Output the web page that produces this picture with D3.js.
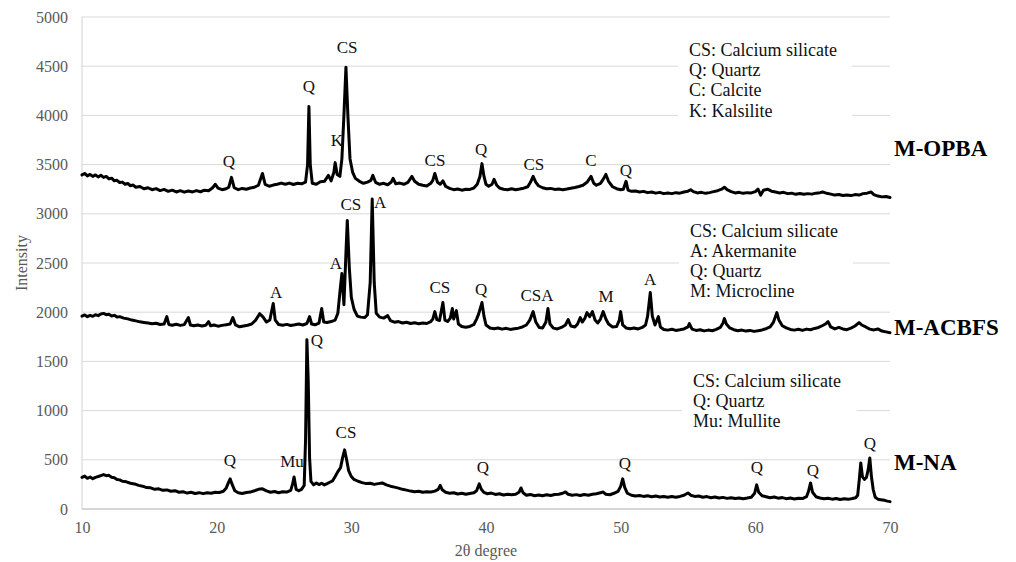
<!DOCTYPE html>
<html>
<head>
<meta charset="utf-8">
<script src="https://cdn.jsdelivr.net/npm/d3@7"></script>
<style>
  body { margin: 0; background: #fff; }
  svg { display: block; }
</style>
</head>
<body>
<svg id="chart" width="1016" height="562"></svg>
<script>
// Axis ticks
const xTicks = [10, 20, 30, 40, 50, 60, 70];
const yTicks = [0, 500, 1000, 1500, 2000, 2500, 3000, 3500, 4000, 4500, 5000];

// XRD patterns: [2θ, intensity]
const opba = [
  [10.0,3395],[10.2,3410],[10.4,3385],[10.6,3400],[10.8,3380],[11.0,3395],[11.2,3375],[11.4,3392],[11.6,3370],[11.8,3380],
  [12.0,3355],[12.2,3362],[12.4,3335],[12.6,3340],[12.8,3318],[13.0,3322],[13.2,3300],[13.4,3308],[13.6,3285],[13.8,3292],
  [14.0,3270],[14.3,3278],[14.6,3255],[14.9,3265],[15.2,3245],[15.5,3256],[15.8,3236],[16.1,3248],[16.4,3228],[16.7,3240],
  [17.0,3222],[17.3,3235],[17.6,3220],[17.9,3232],[18.2,3222],[18.5,3236],[18.8,3224],[19.1,3240],[19.4,3235],[19.7,3265],
  [19.9,3300],[20.1,3262],[20.4,3245],[20.7,3255],[20.9,3270],[21.1,3370],[21.3,3265],[21.6,3245],[21.9,3258],[22.2,3250],
  [22.5,3262],[22.8,3270],[23.1,3290],[23.4,3410],[23.6,3300],[23.9,3280],[24.2,3292],[24.5,3300],[24.8,3312],[25.1,3300],
  [25.4,3312],[25.7,3298],[26.0,3310],[26.3,3305],[26.6,3322],[26.75,3500],[26.85,4090],[26.95,3500],[27.1,3310],[27.4,3300],
  [27.7,3325],[28.0,3330],[28.3,3390],[28.5,3335],[28.7,3420],[28.8,3520],[28.95,3400],[29.15,3380],[29.3,3560],[29.45,4000],
  [29.6,4490],[29.75,3980],[29.9,3560],[30.1,3420],[30.3,3360],[30.6,3330],[30.9,3310],[31.2,3322],[31.45,3340],[31.6,3390],
  [31.8,3320],[32.1,3300],[32.4,3310],[32.7,3295],[32.95,3320],[33.1,3360],[33.3,3305],[33.6,3312],[33.9,3300],[34.2,3320],
  [34.5,3380],[34.7,3330],[35.0,3300],[35.3,3290],[35.6,3282],[35.9,3310],[36.05,3340],[36.2,3410],[36.4,3320],[36.6,3300],
  [36.8,3335],[37.0,3280],[37.3,3258],[37.6,3245],[37.9,3252],[38.2,3240],[38.5,3250],[38.8,3248],[39.1,3262],[39.35,3300],
  [39.55,3380],[39.7,3510],[39.85,3380],[40.0,3300],[40.2,3280],[40.45,3300],[40.6,3350],[40.8,3290],[41.0,3262],[41.3,3250],
  [41.6,3245],[41.9,3255],[42.2,3245],[42.5,3252],[42.8,3260],[43.1,3275],[43.3,3320],[43.5,3380],[43.7,3320],[43.9,3285],
  [44.2,3265],[44.5,3255],[44.8,3258],[45.1,3248],[45.4,3252],[45.7,3245],[46.0,3252],[46.3,3260],[46.6,3268],[46.9,3278],
  [47.2,3290],[47.5,3320],[47.8,3380],[48.0,3310],[48.2,3290],[48.5,3310],[48.7,3350],[48.9,3400],[49.1,3330],[49.4,3275],
  [49.7,3255],[50.0,3245],[50.2,3250],[50.4,3330],[50.55,3240],[50.8,3228],[51.1,3232],[51.4,3222],[51.7,3228],[52.0,3215],
  [52.3,3222],[52.6,3210],[52.9,3218],[53.2,3205],[53.5,3212],[53.8,3205],[54.1,3215],[54.4,3210],[54.7,3222],[55.0,3230],
  [55.2,3245],[55.4,3225],[55.7,3212],[56.0,3218],[56.3,3208],[56.6,3215],[56.9,3225],[57.2,3235],[57.5,3250],[57.7,3270],
  [57.9,3245],[58.2,3225],[58.5,3212],[58.8,3218],[59.1,3208],[59.4,3215],[59.7,3212],[60.0,3225],[60.2,3250],[60.4,3190],
  [60.6,3240],[60.9,3250],[61.2,3230],[61.5,3222],[61.8,3212],[62.1,3218],[62.4,3205],[62.7,3210],[63.0,3198],[63.3,3206],
  [63.6,3198],[63.9,3205],[64.2,3200],[64.5,3210],[64.8,3215],[65.0,3222],[65.3,3208],[65.6,3200],[65.9,3190],[66.2,3196],
  [66.5,3186],[66.8,3192],[67.1,3185],[67.4,3195],[67.7,3190],[68.0,3205],[68.3,3210],[68.6,3222],[68.8,3195],[69.1,3180],
  [69.4,3172],[69.7,3176],[70.0,3165]
];

const acbfs = [
  [10.0,1960],[10.2,1972],[10.4,1955],[10.6,1968],[10.8,1958],[11.0,1975],[11.2,1965],[11.4,1982],[11.6,1988],[11.8,1975],
  [12.0,1980],[12.2,1962],[12.4,1968],[12.6,1950],[12.8,1955],[13.1,1940],[13.4,1932],[13.7,1920],[14.0,1912],[14.3,1902],
  [14.6,1896],[14.9,1890],[15.2,1882],[15.5,1888],[15.8,1875],[16.1,1880],[16.3,1955],[16.45,1875],[16.7,1868],[17.0,1878],
  [17.3,1866],[17.6,1874],[17.9,1945],[18.05,1870],[18.3,1862],[18.6,1870],[18.9,1860],[19.2,1868],[19.4,1904],[19.55,1862],
  [19.8,1870],[20.1,1858],[20.4,1866],[20.7,1872],[21.0,1880],[21.2,1945],[21.4,1870],[21.7,1852],[22.0,1860],[22.3,1868],
  [22.6,1880],[22.9,1920],[23.2,1985],[23.45,1950],[23.7,1900],[23.95,1920],[24.2,2088],[24.35,1920],[24.6,1875],[24.9,1868],
  [25.2,1876],[25.5,1865],[25.8,1872],[26.1,1880],[26.4,1870],[26.7,1885],[26.9,1955],[27.05,1880],[27.3,1872],[27.6,1890],
  [27.8,2037],[27.95,1900],[28.2,1895],[28.5,1905],[28.8,1920],[29.0,1990],[29.15,2200],[29.3,2393],[29.45,2077],[29.6,2600],
  [29.7,2933],[29.85,2450],[30.0,2150],[30.2,2030],[30.45,1960],[30.7,1950],[31.0,1945],[31.2,1975],[31.4,2300],[31.55,3150],
  [31.7,2300],[31.85,1990],[32.1,1950],[32.4,1940],[32.7,1965],[32.9,1915],[33.2,1898],[33.5,1905],[33.8,1890],[34.1,1898],
  [34.4,1885],[34.7,1892],[35.0,1882],[35.3,1890],[35.6,1885],[35.9,1905],[36.05,1930],[36.2,2006],[36.35,1925],[36.55,1915],
  [36.8,2098],[36.95,1920],[37.15,1905],[37.35,1940],[37.5,2037],[37.6,1930],[37.8,2016],[37.95,1880],[38.2,1855],[38.5,1848],
  [38.8,1855],[39.1,1875],[39.3,1930],[39.45,1980],[39.7,2098],[39.85,1960],[40.0,1870],[40.3,1840],[40.6,1832],[40.9,1840],
  [41.2,1828],[41.5,1836],[41.8,1825],[42.1,1832],[42.4,1838],[42.7,1850],[43.0,1870],[43.25,1920],[43.5,2006],[43.7,1900],
  [43.95,1845],[44.2,1840],[44.45,1900],[44.6,2037],[44.75,1880],[45.0,1838],[45.3,1830],[45.6,1845],[45.9,1870],[46.1,1925],
  [46.3,1860],[46.6,1850],[46.8,1880],[47.0,1945],[47.15,1900],[47.35,1940],[47.5,1996],[47.7,1955],[47.9,2006],[48.1,1920],
  [48.3,1890],[48.5,1930],[48.7,2006],[48.9,1930],[49.1,1880],[49.4,1850],[49.7,1855],[49.9,1920],[50.0,2006],[50.15,1870],
  [50.4,1840],[50.7,1832],[51.0,1840],[51.3,1830],[51.6,1845],[51.85,1870],[52.0,1960],[52.2,2200],[52.35,1960],[52.55,1870],
  [52.8,1955],[52.95,1850],[53.2,1825],[53.5,1818],[53.8,1826],[54.1,1815],[54.4,1822],[54.7,1830],[55.0,1850],[55.1,1884],
  [55.3,1828],[55.6,1815],[55.9,1822],[56.2,1810],[56.5,1818],[56.8,1812],[57.1,1825],[57.4,1845],[57.6,1890],[57.7,1935],
  [57.85,1880],[58.1,1840],[58.4,1822],[58.7,1812],[59.0,1818],[59.3,1808],[59.6,1815],[59.9,1805],[60.2,1812],[60.5,1820],
  [60.8,1832],[61.1,1850],[61.35,1900],[61.6,1996],[61.75,1920],[62.0,1862],[62.3,1840],[62.6,1825],[62.9,1818],[63.2,1826],
  [63.5,1815],[63.8,1828],[64.1,1822],[64.4,1835],[64.7,1845],[65.0,1865],[65.2,1880],[65.4,1904],[65.6,1850],[65.9,1830],
  [66.2,1845],[66.5,1830],[66.8,1822],[67.1,1838],[67.4,1860],[67.7,1894],[67.9,1870],[68.2,1850],[68.5,1828],[68.8,1820],
  [69.1,1830],[69.4,1808],[69.7,1800],[70.0,1792]
];

const na = [
  [10.0,322],[10.2,335],[10.4,312],[10.6,325],[10.8,308],[11.0,322],[11.2,330],[11.4,340],[11.6,350],[11.8,338],
  [12.0,342],[12.2,322],[12.4,318],[12.6,300],[12.8,296],[13.0,282],[13.3,276],[13.6,262],[13.9,255],[14.2,240],
  [14.5,232],[14.8,218],[15.1,215],[15.4,200],[15.7,205],[16.0,190],[16.3,194],[16.6,180],[16.9,186],[17.2,170],
  [17.5,176],[17.8,162],[18.1,170],[18.4,158],[18.7,166],[19.0,156],[19.3,165],[19.6,160],[19.9,170],[20.2,168],
  [20.5,180],[20.7,210],[20.85,260],[21.0,306],[21.15,250],[21.35,185],[21.6,165],[21.9,158],[22.2,168],[22.5,172],
  [22.8,185],[23.1,200],[23.4,205],[23.7,185],[24.0,170],[24.3,178],[24.6,165],[24.9,175],[25.2,172],[25.5,190],
  [25.65,260],[25.75,326],[25.9,200],[26.1,185],[26.3,200],[26.5,240],[26.6,700],[26.7,1721],[26.8,1300],[26.9,520],
  [27.0,280],[27.2,245],[27.4,265],[27.6,248],[27.8,262],[28.0,245],[28.2,258],[28.4,272],[28.6,285],[28.8,330],
  [29.0,380],[29.2,420],[29.35,520],[29.5,601],[29.65,500],[29.8,390],[30.0,330],[30.2,300],[30.5,282],[30.8,268],
  [31.1,258],[31.4,262],[31.7,250],[32.0,258],[32.3,265],[32.6,245],[32.9,232],[33.2,222],[33.5,212],[33.8,200],
  [34.1,192],[34.4,182],[34.7,175],[35.0,180],[35.3,170],[35.6,176],[35.9,172],[36.2,182],[36.45,200],[36.6,240],
  [36.75,195],[37.0,170],[37.3,160],[37.6,165],[37.9,152],[38.2,160],[38.5,150],[38.8,158],[39.1,165],[39.3,185],
  [39.5,255],[39.65,200],[39.85,168],[40.1,155],[40.4,162],[40.7,148],[41.0,155],[41.3,142],[41.6,150],[41.9,145],
  [42.2,150],[42.45,170],[42.6,214],[42.75,165],[43.0,140],[43.3,148],[43.6,135],[43.9,142],[44.2,135],[44.5,145],
  [44.8,138],[45.1,148],[45.4,150],[45.7,160],[45.9,173],[46.1,150],[46.4,140],[46.7,146],[47.0,138],[47.3,148],
  [47.6,140],[47.9,150],[48.2,155],[48.5,165],[48.7,172],[48.9,150],[49.2,145],[49.5,160],[49.8,178],[50.0,230],
  [50.15,306],[50.3,220],[50.5,160],[50.8,140],[51.1,132],[51.4,138],[51.7,128],[52.0,135],[52.3,125],[52.6,132],
  [52.9,122],[53.2,128],[53.5,120],[53.8,126],[54.1,120],[54.4,128],[54.7,140],[55.0,163],[55.2,140],[55.5,128],
  [55.8,132],[56.1,120],[56.4,126],[56.7,115],[57.0,122],[57.3,112],[57.6,118],[57.9,108],[58.2,115],[58.5,106],
  [58.8,112],[59.1,105],[59.4,112],[59.7,120],[59.95,160],[60.1,245],[60.25,170],[60.5,135],[60.8,125],[61.1,115],
  [61.4,122],[61.7,110],[62.0,116],[62.3,105],[62.6,112],[62.9,102],[63.2,110],[63.5,106],[63.8,125],[63.95,180],
  [64.1,265],[64.25,170],[64.5,125],[64.8,112],[65.1,105],[65.4,110],[65.7,100],[66.0,106],[66.3,96],[66.6,104],
  [66.9,98],[67.2,106],[67.45,115],[67.6,140],[67.72,300],[67.83,468],[67.95,330],[68.1,300],[68.25,320],[68.38,400],
  [68.5,519],[68.62,330],[68.75,200],[68.9,120],[69.1,100],[69.3,95],[69.6,88],[69.8,80],[70.0,75]
];

const series = [
  { name: "M-OPBA", values: opba },
  { name: "M-ACBFS", values: acbfs },
  { name: "M-NA", values: na }
];

// Sample names beside the right end of each pattern: [name, intensity]
const sampleNames = [["M-OPBA", 3587], ["M-ACBFS", 1768], ["M-NA", 396]];

// Phase marks above the peaks: [text, 2θ, intensity]
const opbaMarks = [["Q",20.91,3476],["Q",26.85,4238],["K",28.93,3689],["CS",29.68,4634],["CS",36.21,3486],
                   ["Q",39.63,3598],["CS",43.56,3445],["C",47.80,3486],["Q",50.39,3384]];
const acbfsMarks = [["A",24.41,2144],["A",28.86,2439],["CS",29.97,3039],["A",32.13,3059],["CS",36.58,2195],
                    ["Q",39.63,2175],["CSA",43.79,2114],["M",48.91,2104],["A",52.18,2276]];
const naMarks = [["Q",20.99,437],["Mu",25.59,427],["Q",27.45,1657],["CS",29.60,722],["Q",39.77,366],
                 ["Q",50.31,407],["Q",60.11,366],["Q",64.27,335],["Q",68.50,610]];

// Phase keys
const opbaKey = ["CS: Calcium silicate", "Q: Quartz", "C: Calcite", "K: Kalsilite"];
const acbfsKey = ["CS: Calcium silicate", "A: Akermanite", "Q: Quartz", "M: Microcline"];
const naKey = ["CS: Calcium silicate", "Q: Quartz", "Mu: Mullite"];

const svg = d3.select("#chart");
const serif = "'Liberation Serif', 'Times New Roman', serif";

const x = d3.scaleLinear().domain([10, 70]).range([82, 890]);
const y = d3.scaleLinear().domain([0, 5000]).range([509, 17]);

// Horizontal gridlines
svg.append("g")
  .selectAll("line")
  .data(yTicks.filter(d => d > 0))
  .join("line")
  .attr("x1", x(10)).attr("x2", x(70))
  .attr("y1", d => y(d)).attr("y2", d => y(d))
  .attr("stroke", "#d9d9d9").attr("stroke-width", 1);

// Axis lines
svg.append("line")
  .attr("x1", x(10)).attr("x2", x(10)).attr("y1", y(0)).attr("y2", y(5000))
  .attr("stroke", "#d9d9d9").attr("stroke-width", 1.2);
svg.append("line")
  .attr("x1", x(10)).attr("x2", x(70)).attr("y1", y(0)).attr("y2", y(0))
  .attr("stroke", "#c8c8c8").attr("stroke-width", 1.4);

// Axes (labels only)
const yAxis = svg.append("g")
  .attr("transform", `translate(${x(10)},0)`)
  .call(d3.axisLeft(y).tickValues(yTicks).tickSize(0).tickPadding(14).tickFormat(d3.format("d")));
const xAxis = svg.append("g")
  .attr("transform", `translate(0,${y(0)})`)
  .call(d3.axisBottom(x).tickValues(xTicks).tickSize(0).tickPadding(13).tickFormat(d3.format("d")));
[yAxis, xAxis].forEach(g => {
  g.select(".domain").remove();
  g.selectAll("text")
    .attr("font-family", serif)
    .attr("font-size", 16)
    .attr("fill", "#595959");
});

// Axis titles
svg.append("text")
  .attr("x", (x(10) + x(70)) / 2).attr("y", 556)
  .attr("text-anchor", "middle")
  .attr("font-family", serif).attr("font-size", 16).attr("fill", "#595959")
  .text("2θ degree");
svg.append("text")
  .attr("transform", `translate(27,${(y(0) + y(5000)) / 2}) rotate(-90)`)
  .attr("text-anchor", "middle")
  .attr("font-family", serif).attr("font-size", 16).attr("fill", "#595959")
  .text("Intensity");

// Phase keys on white boxes
function drawKey(lines, left, top, width, height, textX, firstBaseline) {
  const g = svg.append("g");
  g.append("rect")
    .attr("x", left).attr("y", top).attr("width", width).attr("height", height)
    .attr("fill", "#fff");
  g.selectAll("text")
    .data(lines)
    .join("text")
    .attr("x", textX)
    .attr("y", (d, i) => firstBaseline + i * 20.2)
    .attr("font-family", serif).attr("font-size", 18).attr("fill", "#111")
    .text(d => d);
}
drawKey(opbaKey, 678, 38, 174, 86, 689, 56);
drawKey(acbfsKey, 679, 221, 174, 82, 690, 236.5);
drawKey(naKey, 682, 371, 175, 62, 693, 386.5);

// Patterns
const line = d3.line().x(d => x(d[0])).y(d => y(d[1]));
svg.append("g")
  .selectAll("path")
  .data(series)
  .join("path")
  .attr("d", d => line(d.values))
  .attr("fill", "none")
  .attr("stroke", "#000")
  .attr("stroke-width", 3)
  .attr("stroke-linejoin", "round")
  .attr("stroke-linecap", "round");

// Phase marks
svg.append("g")
  .selectAll("text")
  .data([...opbaMarks, ...acbfsMarks, ...naMarks])
  .join("text")
  .attr("x", d => x(d[1]))
  .attr("y", d => y(d[2]))
  .attr("text-anchor", "middle")
  .attr("font-family", serif).attr("font-size", 17).attr("fill", "#111")
  .text(d => d[0]);

// Sample names
svg.append("g")
  .selectAll("text")
  .data(sampleNames)
  .join("text")
  .attr("x", x(70) + 4)
  .attr("y", d => y(d[1]))
  .attr("font-family", serif).attr("font-size", 23).attr("font-weight", "bold").attr("fill", "#000")
  .text(d => d[0]);
</script>
</body>
</html>
